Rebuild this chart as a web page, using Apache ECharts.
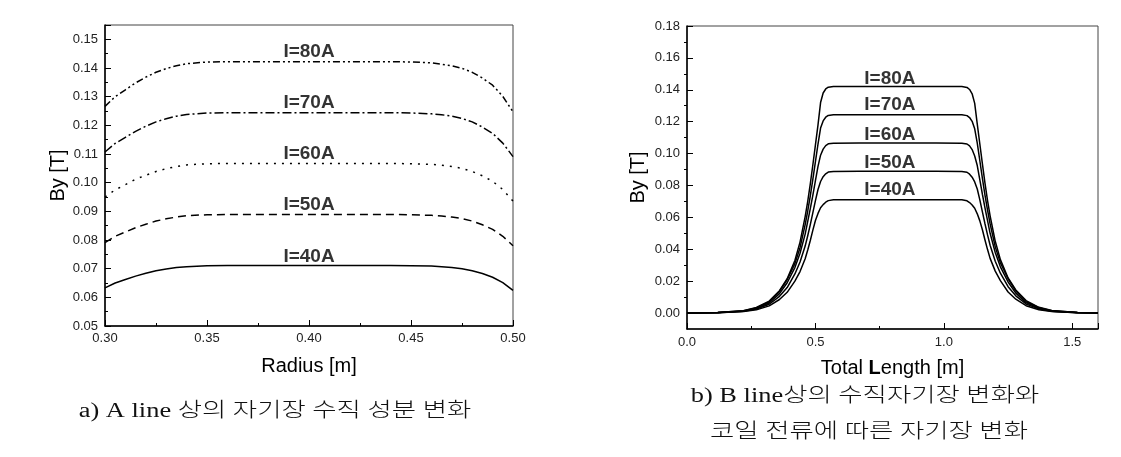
<!DOCTYPE html>
<html>
<head>
<meta charset="utf-8">
<script src="https://cdn.jsdelivr.net/npm/echarts@6/dist/echarts.min.js"></script>
<style>
html, body { margin: 0; background: #fff; }
#main { width: 1121px; height: 457px; }
</style>
</head>
<body>
<div id="main"></div>
<script>
// a) A line - radius vs By
var leftR = [0.30, 0.305, 0.31, 0.315, 0.32, 0.325, 0.33, 0.335, 0.34, 0.35, 0.36, 0.38, 0.40, 0.42, 0.44, 0.45, 0.46, 0.465, 0.47, 0.475, 0.48, 0.485, 0.49, 0.495, 0.50];
var leftB40 = [0.0633, 0.0650, 0.0662, 0.0674, 0.0684, 0.0693, 0.0699, 0.0704, 0.0707, 0.0710, 0.0711, 0.0711, 0.0711, 0.0711, 0.0711, 0.0710, 0.0709, 0.0707, 0.0704, 0.0700, 0.0693, 0.0683, 0.0670, 0.0651, 0.0624];
var leftB50 = [0.0791, 0.0813, 0.0828, 0.0843, 0.0855, 0.0866, 0.0874, 0.0880, 0.0885, 0.0888, 0.0889, 0.0889, 0.0889, 0.0889, 0.0889, 0.0888, 0.0886, 0.0884, 0.0880, 0.0875, 0.0866, 0.0853, 0.0837, 0.0813, 0.0780];
var leftB60 = [0.0950, 0.0975, 0.0993, 0.1012, 0.1026, 0.1039, 0.1049, 0.1056, 0.1062, 0.1066, 0.1067, 0.1067, 0.1067, 0.1067, 0.1067, 0.1066, 0.1064, 0.1061, 0.1056, 0.1050, 0.1039, 0.1024, 0.1005, 0.0976, 0.0936];
var leftB70 = [0.1107, 0.1137, 0.1158, 0.1179, 0.1197, 0.1212, 0.1223, 0.1232, 0.1238, 0.1243, 0.1244, 0.1244, 0.1244, 0.1244, 0.1244, 0.1243, 0.1240, 0.1237, 0.1232, 0.1224, 0.1212, 0.1194, 0.1172, 0.1138, 0.1091];
var leftB80 = [0.1266, 0.1300, 0.1324, 0.1348, 0.1368, 0.1385, 0.1398, 0.1408, 0.1415, 0.1421, 0.1422, 0.1422, 0.1422, 0.1422, 0.1422, 0.1421, 0.1418, 0.1413, 0.1408, 0.1399, 0.1385, 0.1365, 0.1340, 0.1301, 0.1247];

// b) B line - total length vs By
var rightX = [0.00, 0.12, 0.22, 0.27, 0.32, 0.36, 0.39, 0.42, 0.44, 0.46, 0.47, 0.48, 0.49, 0.50, 0.51, 0.52, 0.53, 0.54, 0.55, 0.57, 0.67, 0.82,
              0.97, 1.07, 1.09, 1.10, 1.11, 1.12, 1.13, 1.14, 1.15, 1.16, 1.17, 1.18, 1.20, 1.22, 1.25, 1.28, 1.32, 1.37, 1.42, 1.52, 1.60];
var rightB80 = [0.0000, 0.0003, 0.0015, 0.0035, 0.0075, 0.0140, 0.0215, 0.0330, 0.0445, 0.0605, 0.0700, 0.0810, 0.0930, 0.1055, 0.1180, 0.1320, 0.1380, 0.1405, 0.1416, 0.1420, 0.1421, 0.1421,
                0.1421, 0.1420, 0.1415, 0.1402, 0.1375, 0.1315, 0.1185, 0.1060, 0.0935, 0.0815, 0.0705, 0.0610, 0.0450, 0.0335, 0.0220, 0.0145, 0.0078, 0.0036, 0.0016, 0.0003, 0.0001];
var rightB70 = [0.0000, 0.0003, 0.0014, 0.0032, 0.0070, 0.0135, 0.0210, 0.0310, 0.0410, 0.0555, 0.0640, 0.0735, 0.0840, 0.0950, 0.1060, 0.1160, 0.1205, 0.1228, 0.1239, 0.1243, 0.1244, 0.1244,
                0.1244, 0.1243, 0.1238, 0.1226, 0.1202, 0.1155, 0.1065, 0.0955, 0.0845, 0.0740, 0.0645, 0.0560, 0.0415, 0.0315, 0.0215, 0.0138, 0.0072, 0.0033, 0.0014, 0.0003, 0.0001];
var rightB60 = [0.0000, 0.0003, 0.0012, 0.0029, 0.0063, 0.0122, 0.0190, 0.0285, 0.0375, 0.0495, 0.0575, 0.0655, 0.0740, 0.0830, 0.0920, 0.0990, 0.1028, 0.1050, 0.1061, 0.1065, 0.1066, 0.1066,
                0.1066, 0.1065, 0.1060, 0.1048, 0.1025, 0.0985, 0.0925, 0.0835, 0.0745, 0.0660, 0.0580, 0.0500, 0.0380, 0.0290, 0.0195, 0.0125, 0.0065, 0.0030, 0.0012, 0.0003, 0.0001];
var rightB50 = [0.0000, 0.0002, 0.0011, 0.0025, 0.0055, 0.0105, 0.0160, 0.0245, 0.0320, 0.0420, 0.0485, 0.0555, 0.0630, 0.0705, 0.0775, 0.0825, 0.0855, 0.0873, 0.0884, 0.0888, 0.0889, 0.0889,
                0.0889, 0.0888, 0.0883, 0.0871, 0.0852, 0.0822, 0.0778, 0.0710, 0.0635, 0.0560, 0.0490, 0.0425, 0.0325, 0.0250, 0.0165, 0.0108, 0.0057, 0.0026, 0.0011, 0.0002, 0.0001];
var rightB40 = [0.0000, 0.0002, 0.0009, 0.0020, 0.0045, 0.0085, 0.0130, 0.0200, 0.0260, 0.0340, 0.0395, 0.0455, 0.0520, 0.0580, 0.0625, 0.0660, 0.0680, 0.0695, 0.0705, 0.0710, 0.0711, 0.0711,
                0.0711, 0.0710, 0.0704, 0.0693, 0.0678, 0.0657, 0.0622, 0.0578, 0.0522, 0.0458, 0.0398, 0.0343, 0.0263, 0.0203, 0.0132, 0.0087, 0.0046, 0.0021, 0.0009, 0.0002, 0.0000];

// 곡선 라벨 (data coords)
var curveNames = ['I=40A', 'I=50A', 'I=60A', 'I=70A', 'I=80A'];
var leftLabelX = [0.40, 0.40, 0.40, 0.40, 0.40];
var leftLabelY = [0.0741, 0.0922, 0.1100, 0.1277, 0.1455];
var rightLabelX = [0.79, 0.79, 0.79, 0.79, 0.79];
var rightLabelY = [0.0776, 0.0943, 0.1121, 0.1305, 0.1472];

// 오른쪽 y축 눈금
var rightYTicks = [0, 0.02, 0.04, 0.06, 0.08, 0.10, 0.12, 0.14, 0.16, 0.18];
var rightYMinor = [0.01, 0.03, 0.05, 0.07, 0.09, 0.11, 0.13, 0.15, 0.17];

var captionA = 'a) A line 상의 자기장 수직 성분 변화';
var captionB1 = 'b) B line상의 수직자기장 변화와';
var captionB2 = '코일 전류에 따른 자기장 변화';

var FONT = '"Liberation Sans", Arial, sans-serif';
var CAPFONT = '"Liberation Serif", "Noto Sans CJK KR", serif';

function pairs(xs, ys) {
    return xs.map(function(x, i) { return [x, ys[i]]; });
}

var axisLineStyle = { color: '#000', width: 1.5 };
var tickLabel = { color: '#222', fontSize: 13, fontFamily: FONT };
var nameStyle = { color: '#000', fontSize: 20, fontFamily: FONT };

function lineSeries(xi, data, dash) {
    return {
        type: 'line',
        xAxisIndex: xi,
        yAxisIndex: xi,
        data: data,
        showSymbol: false,
        silent: true,
        lineStyle: { color: '#000', width: 1.5, type: dash }
    };
}

function labelSeries(xi, yi, xs, ys) {
    return {
        type: 'scatter',
        xAxisIndex: xi,
        yAxisIndex: yi,
        symbolSize: 0,
        silent: true,
        data: xs.map(function(x, i) { return [x, ys[i], curveNames[i]]; }),
        label: {
            show: true,
            position: 'inside',
            formatter: function(p) { return p.value[2]; },
            color: '#000',
            fontSize: 19,
            fontWeight: 'bold',
            fontFamily: FONT
        }
    };
}

// 캡션 (가로로 늘린 글씨)
function caption(text, x, y) {
    return {
        type: 'text', x: x, y: y, scaleX: 1.32,
        style: { text: text, font: '300 20px ' + CAPFONT, fill: '#111', align: 'center', verticalAlign: 'middle' }
    };
}

var chart = echarts.init(document.getElementById('main'));
var option = {
    animation: false,
    backgroundColor: '#fff',
    grid: [
        { left: 105, top: 25, width: 408, height: 301, show: true, borderColor: '#444', borderWidth: 1 },
        { left: 687, top: 26, width: 411, height: 303, show: true, borderColor: '#444', borderWidth: 1 }
    ],
    xAxis: [
        {
            gridIndex: 0, type: 'value', min: 0.30, max: 0.50, interval: 0.05,
            name: 'Radius [m]', nameLocation: 'middle', nameGap: 30, nameTextStyle: nameStyle,
            axisLine: { onZero: false, lineStyle: axisLineStyle },
            axisTick: { inside: true, length: 6, lineStyle: { color: '#000' } },
            minorTick: { show: true, splitNumber: 2, length: 3, lineStyle: { color: '#000' } },
            axisLabel: Object.assign({ margin: 6, formatter: function(v) { return v.toFixed(2); } }, tickLabel),
            splitLine: { show: false }
        },
        {
            gridIndex: 1, type: 'value', min: 0, max: 1.6, interval: 0.5,
            name: 'Total {b|L}ength [m]', nameLocation: 'middle', nameGap: 29,
            nameTextStyle: Object.assign({ rich: { b: { fontWeight: 'bold', fontSize: 20, fontFamily: FONT, color: '#000' } } }, nameStyle),
            axisLine: { onZero: false, lineStyle: axisLineStyle },
            axisTick: { inside: true, length: 6, lineStyle: { color: '#000' } },
            minorTick: { show: true, splitNumber: 2, length: 3, lineStyle: { color: '#000' } },
            axisLabel: Object.assign({ margin: 7, showMaxLabel: false, formatter: function(v) { return v.toFixed(1); } }, tickLabel),
            splitLine: { show: false }
        }
    ],
    yAxis: [
        {
            gridIndex: 0, type: 'value', min: 0.05, max: 0.155, interval: 0.01,
            name: 'By [T]', nameLocation: 'middle', nameGap: 37, nameTextStyle: nameStyle,
            axisLine: { onZero: false, lineStyle: axisLineStyle },
            axisTick: { inside: true, length: 6, lineStyle: { color: '#000' } },
            minorTick: { show: true, splitNumber: 2, length: 3, lineStyle: { color: '#000' } },
            axisLabel: Object.assign({ margin: 7, showMaxLabel: false, formatter: function(v) { return v.toFixed(2); } }, tickLabel),
            splitLine: { show: false }
        },
        {
            gridIndex: 1, type: 'value', min: -0.01, max: 0.18,
            name: 'By [T]', nameLocation: 'middle', nameGap: 39, nameTextStyle: nameStyle,
            axisLine: { onZero: false, lineStyle: axisLineStyle },
            axisTick: { inside: true, length: 6, customValues: rightYTicks, lineStyle: { color: '#000' } },
            axisLabel: Object.assign({ margin: 7, customValues: rightYTicks, formatter: function(v) { return v.toFixed(2); } }, tickLabel),
            splitLine: { show: false }
        },
        {
            gridIndex: 1, type: 'value', min: -0.01, max: 0.18,
            axisLine: { show: false },
            axisTick: { inside: true, length: 3, customValues: rightYMinor, lineStyle: { color: '#000' } },
            axisLabel: { show: false },
            splitLine: { show: false }
        }
    ],
    series: [
        lineSeries(0, pairs(leftR, leftB40), 'solid'),
        lineSeries(0, pairs(leftR, leftB50), [8, 5]),
        lineSeries(0, pairs(leftR, leftB60), [2, 6]),
        lineSeries(0, pairs(leftR, leftB70), [9, 3, 2, 3]),
        lineSeries(0, pairs(leftR, leftB80), [7, 3, 2, 3, 2, 3]),
        labelSeries(0, 0, leftLabelX, leftLabelY),
        lineSeries(1, pairs(rightX, rightB40), 'solid'),
        lineSeries(1, pairs(rightX, rightB50), 'solid'),
        lineSeries(1, pairs(rightX, rightB60), 'solid'),
        lineSeries(1, pairs(rightX, rightB70), 'solid'),
        lineSeries(1, pairs(rightX, rightB80), 'solid'),
        labelSeries(1, 1, rightLabelX, rightLabelY)
    ],
    graphic: [
        caption(captionA, 275, 412),
        caption(captionB1, 865, 397),
        caption(captionB2, 869, 433)
    ]
};
chart.setOption(option);
</script>
</body>
</html>
